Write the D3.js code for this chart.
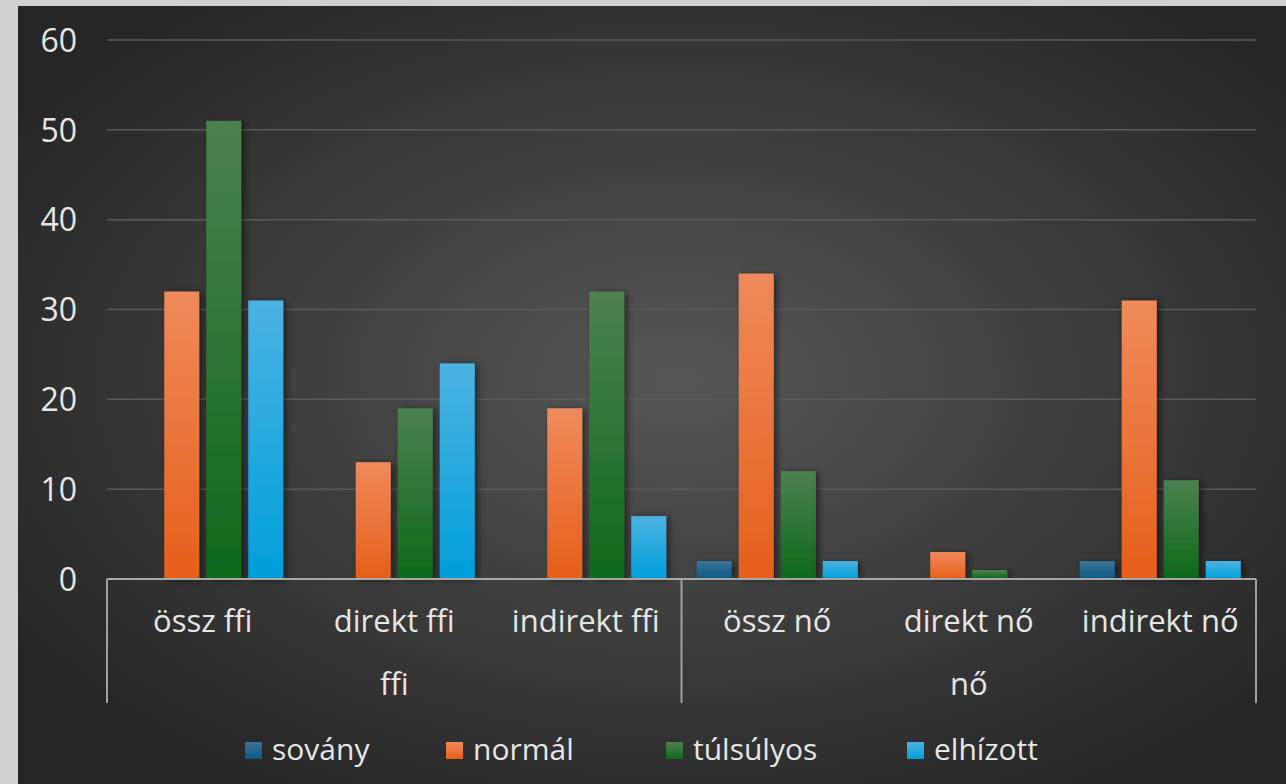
<!DOCTYPE html>
<html>
<head>
<meta charset="utf-8">
<script src="https://cdn.jsdelivr.net/npm/d3@7"></script>
<style>
  body { margin: 0; background: #d0d0d0; }
  svg { display: block; }
  text { font-family: "Open Sans", "DejaVu Sans", sans-serif; fill: #e6e6e6; }
</style>
</head>
<body>
<script>
// chart data
const categories = ['össz ffi', 'direkt ffi', 'indirekt ffi', 'össz nő', 'direkt nő', 'indirekt nő']
const groups = ['ffi', 'nő']
const series = ['sovány', 'normál', 'túlsúlyos', 'elhízott']
const sovany = [0, 0, 0, 2, 0, 2]
const normal = [32, 13, 19, 34, 3, 31]
const tulsulyos = [51, 19, 32, 12, 1, 11]
const elhizott = [31, 24, 7, 2, 0, 2]
const yTicks = [0, 10, 20, 30, 40, 50, 60]

const values = [sovany, normal, tulsulyos, elhizott]
// light top / dark bottom for each series
const colors = [
    ['#3c7398', '#0b5983'],
    ['#f08a5b', '#e65f1a'],
    ['#4d8050', '#0d6a19'],
    ['#4cb2e2', '#009fdb']
]

const m = { width: 1286, height: 784, left: 107, right: 1256, top: 40, bottom: 579 }

const svg = d3.select('body').append('svg')
    .attr('width', m.width)
    .attr('height', m.height)

const defs = svg.append('defs')

// background
const bg = defs.append('radialGradient')
    .attr('id', 'bg')
    .attr('cx', '52%').attr('cy', '48%').attr('r', '62%')
bg.append('stop').attr('offset', '0%').attr('stop-color', '#565656')
bg.append('stop').attr('offset', '100%').attr('stop-color', '#262626')

series.forEach((s, i) => {
    const g = defs.append('linearGradient')
        .attr('id', 'grad' + i)
        .attr('x1', 0).attr('y1', 0).attr('x2', 0).attr('y2', 1)
    g.append('stop').attr('offset', '0%').attr('stop-color', colors[i][0])
    g.append('stop').attr('offset', '100%').attr('stop-color', colors[i][1])
})

const shadow = defs.append('filter').attr('id', 'shadow')
    .attr('x', '-50%').attr('y', '-10%').attr('width', '200%').attr('height', '120%')
shadow.append('feDropShadow')
    .attr('dx', 3).attr('dy', 1).attr('stdDeviation', 3)
    .attr('flood-color', '#000').attr('flood-opacity', 0.5)

svg.append('rect')
    .attr('x', 18).attr('y', 6)
    .attr('width', m.width - 18).attr('height', m.height - 6)
    .attr('fill', 'url(#bg)')

// scales
const x0 = d3.scaleBand()
    .domain(categories)
    .range([m.left, m.right])
    .padding(0)

const x1 = d3.scaleBand()
    .domain(series)
    .range([0, x0.bandwidth()])
    .paddingInner(0.167)
    .paddingOuter(0.363)

const y = d3.scaleLinear()
    .domain([0, 60])
    .range([m.bottom, m.top])

// gridlines
svg.append('g')
    .selectAll('line')
    .data(yTicks.filter(d => d > 0))
    .join('line')
    .attr('x1', m.left).attr('x2', m.right)
    .attr('y1', d => y(d)).attr('y2', d => y(d))
    .attr('stroke', '#5a5a5a')
    .attr('stroke-width', 1.5)

// y axis labels
const yAxis = d3.axisLeft(y).tickValues(yTicks).tickSize(0).tickPadding(0)
svg.append('g')
    .attr('transform', 'translate(77,0)')
    .call(yAxis)
    .call(g => g.select('.domain').remove())
    .call(g => g.attr('font-size', null).attr('font-family', null))
    .call(g => g.selectAll('text')
        .attr('font-size', 32)
        .attr('dy', '0.35em')
        .attr('fill', '#e6e6e6'))

// bars
const rows = categories.map((c, ci) => series.map((s, si) => ({ cat: c, s, i: si, v: values[si][ci] })))

svg.append('g')
    .selectAll('g')
    .data(rows)
    .join('g')
    .attr('transform', d => `translate(${x0(d[0].cat)},0)`)
    .selectAll('rect')
    .data(d => d.filter(e => e.v > 0))
    .join('rect')
    .attr('x', d => x1(d.s))
    .attr('y', d => y(d.v))
    .attr('width', x1.bandwidth())
    .attr('height', d => y(0) - y(d.v))
    .attr('fill', d => `url(#grad${d.i})`)
    .attr('filter', 'url(#shadow)')

// baseline and group separators
svg.append('line')
    .attr('x1', m.left).attr('x2', m.right)
    .attr('y1', y(0)).attr('y2', y(0))
    .attr('stroke', '#a8a8a8').attr('stroke-width', 2)

const sepX = [m.left, x0(categories[3]), m.right]
svg.append('g')
    .selectAll('line')
    .data(sepX)
    .join('line')
    .attr('x1', d => d).attr('x2', d => d)
    .attr('y1', y(0)).attr('y2', 703)
    .attr('stroke', '#a0a0a0').attr('stroke-width', 2)

// category labels
svg.append('g')
    .selectAll('text')
    .data(categories)
    .join('text')
    .attr('x', d => x0(d) + x0.bandwidth() / 2)
    .attr('y', 632)
    .attr('text-anchor', 'middle')
    .attr('font-size', 31)
    .text(d => d)

// group labels
svg.append('g')
    .selectAll('text')
    .data(groups)
    .join('text')
    .attr('x', (d, i) => (sepX[i] + sepX[i + 1]) / 2)
    .attr('y', 695)
    .attr('text-anchor', 'middle')
    .attr('font-size', 31)
    .text(d => d)

// legend
const legendX = [245, 446, 666, 907]
const legend = svg.append('g')
    .selectAll('g')
    .data(series)
    .join('g')
    .attr('transform', (d, i) => `translate(${legendX[i]},760)`)

legend.append('rect')
    .attr('x', 0).attr('y', -18)
    .attr('width', 17).attr('height', 17)
    .attr('fill', (d, i) => `url(#grad${i})`)

legend.append('text')
    .attr('x', 27)
    .attr('font-size', 30)
    .text(d => d)
</script>
</body>
</html>
